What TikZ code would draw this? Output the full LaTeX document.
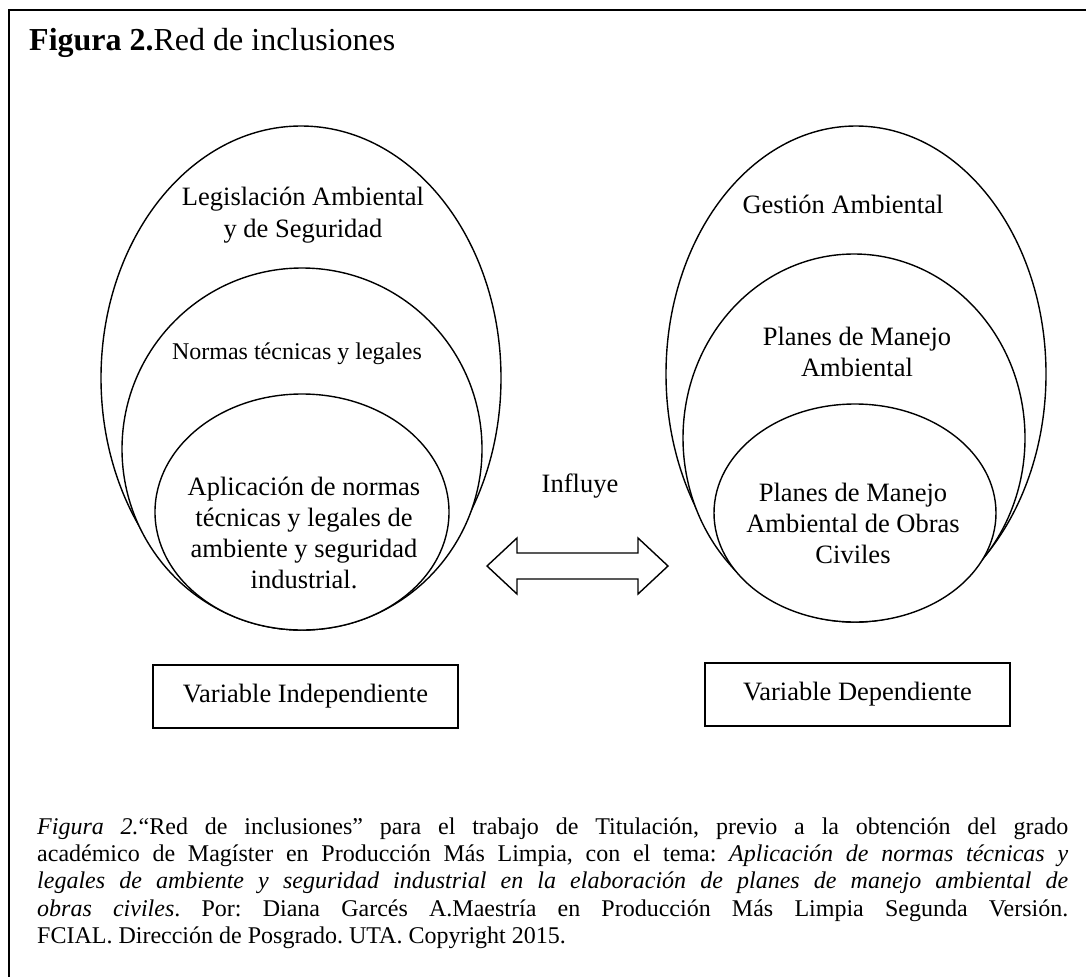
\documentclass[tikz,border=0pt]{standalone}
\usepackage{fontspec}
\setmainfont{Liberation Serif}
\usetikzlibrary{shapes.geometric}
\tikzset{
  conjunto/.style={ellipse, draw, fill=white, line width=1.4pt, inner sep=0pt},
  rotulo/.style={align=center, inner sep=0pt, font=\fontsize{26.5}{32}\selectfont},
  cajavar/.style={draw, line width=1.4pt, minimum width=305pt, minimum height=63pt, inner sep=0pt, font=\fontsize{26.5}{32}\selectfont},
}
\begin{document}
\begin{tikzpicture}[x=1pt, y=-1pt]
  \useasboundingbox (0,0) rectangle (1086,977);
  % marco de la figura (abierto a la derecha y abajo)
  \draw[line width=1.8pt] (1086,10) -- (8.7,10) -- (8.7,977);
  \node[anchor=base west, inner sep=0pt, font=\fontsize{32}{38}\selectfont] (titulo) at (29,50) {\textbf{Figura 2.}Red de inclusiones};

  % conjuntos de la variable independiente (tangentes abajo)
  \node[conjunto, minimum width=400pt, minimum height=504pt] (legis) at (301,378) {};
  \node[conjunto, minimum width=360pt, minimum height=362pt] (normas) at (302,449) {};
  \node[conjunto, minimum width=294pt, minimum height=236pt] (aplic) at (302,512) {};
  \node[rotulo, anchor=base] (tlegis) at (303,237) {Legislación Ambiental\\y de Seguridad};
  \node[rotulo, anchor=base, font=\fontsize{24}{29}\selectfont] (tnormas) at (297,359) {Normas técnicas y legales};
  \node[rotulo, anchor=base, font=\fontsize{26.5}{31}\selectfont] (taplic) at (304,588) {Aplicación de normas\\técnicas y legales de\\ambiente y seguridad\\industrial.};

  % conjuntos de la variable dependiente
  \node[conjunto, minimum width=380pt, minimum height=496pt] (gestion) at (856,374) {};
  \node[conjunto, minimum width=342pt, minimum height=368pt] (planes) at (854,438) {};
  \node[conjunto, minimum width=282pt, minimum height=218pt] (obras) at (855,513) {};
  \node[rotulo, anchor=base] (tgestion) at (843,213) {Gestión Ambiental};
  \node[rotulo, anchor=base, font=\fontsize{26.5}{31}\selectfont] (tplanes) at (857,376) {Planes de Manejo\\Ambiental};
  \node[rotulo, anchor=base, font=\fontsize{26.5}{31}\selectfont] (tobras) at (853,563) {Planes de Manejo\\Ambiental de Obras\\Civiles};

  % flecha doble de influencia
  \node[rotulo, anchor=base] (influye) at (580,492) {Influye};
  \draw[line width=1.4pt, line join=miter] (487,566) -- (517,538) -- (517,553) -- (638,553) -- (638,538)
    -- (668,566) -- (638,594) -- (638,579) -- (517,579) -- (517,594) -- cycle;

  % variables
  \node[cajavar] (vind) at (305.5,696.5) {Variable Independiente};
  \node[cajavar] (vdep) at (857.5,694.5) {Variable Dependiente};

  % nota de la figura
  \node[anchor=base west, inner sep=0pt, text width=1031pt, align=justify,
        font=\fontsize{24}{27.4}\selectfont] (nota) at (37,834)
    {\frenchspacing\hyphenpenalty=10000\tolerance=10000
     \textit{Figura 2.}“Red de inclusiones” para el trabajo de Titulación, previo a la obtención del grado\linebreak
     académico de Magíster en Producción Más Limpia, con el tema: \textit{Aplicación de normas técnicas y\linebreak
     legales de ambiente y seguridad industrial en la elaboración de planes de manejo ambiental de\linebreak
     obras civiles}. Por: Diana Garcés A.Maestría en Producción Más Limpia Segunda Versión.\linebreak
     FCIAL. Dirección de Posgrado. UTA. Copyright 2015.};
\end{tikzpicture}
\end{document}
